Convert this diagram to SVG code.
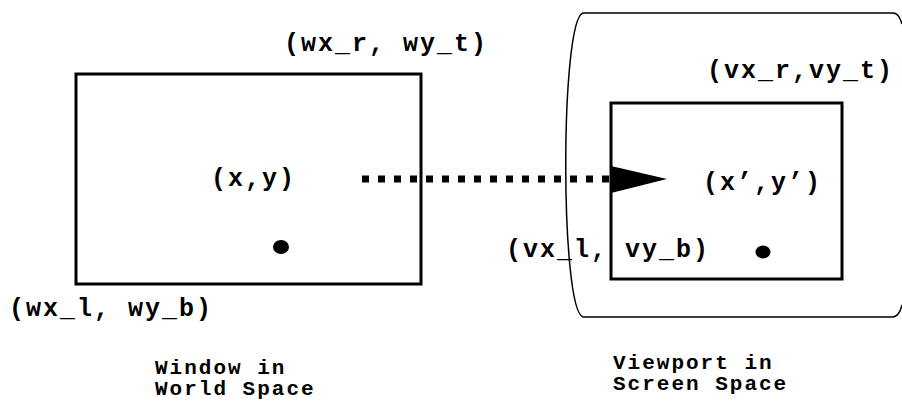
<svg xmlns="http://www.w3.org/2000/svg" width="902" height="410" viewBox="0 0 902 410">
<style>
.box{fill:none;stroke:#000;stroke-width:3}
.thin{fill:none;stroke:#000;stroke-width:1.5}
.lbl{font-family:"Liberation Mono","Courier New",monospace;font-weight:bold;font-size:25px;letter-spacing:2px;fill:#000}
.cap{font-family:"Liberation Mono","Courier New",monospace;font-weight:bold;font-size:21px;letter-spacing:2px;fill:#000}
.dots{fill:none;stroke:#000;stroke-width:7;stroke-dasharray:7 9}
</style>
<rect width="902" height="410" fill="#fff"/>
<g id="screen">
<path class="thin" d="M583,13 H893 C897,13 900,17 902,24"/>
<path class="thin" d="M583,13 C560,20 560,310 583,317 H893 C897,317 900,313 902,305"/>
</g>
<g id="window">
<rect class="box" x="76" y="74" width="345" height="210"/>
<ellipse cx="281" cy="247" rx="8" ry="7"/>
<text class="lbl" x="284" y="51">(wx_r, wy_t)</text>
<text class="lbl" x="211" y="186">(x,y)</text>
<text class="lbl" x="9" y="316">(wx_l, wy_b)</text>
<text class="cap" x="155" y="374">Window in</text>
<text class="cap" x="155" y="395">World Space</text>
</g>
<g id="viewport">
<rect class="box" x="611" y="103" width="231" height="176"/>
<ellipse cx="763" cy="252" rx="7.5" ry="6.5"/>
<text class="lbl" x="707" y="78">(vx_r,vy_t)</text>
<text class="lbl" x="703" y="190">(x’,y’)</text>
<text class="lbl" x="506" y="257">(vx_l, vy_b)</text>
<text class="cap" x="613" y="369">Viewport in</text>
<text class="cap" x="613" y="390">Screen Space</text>
</g>
<g id="connectors">
<line class="dots" x1="362" y1="179" x2="609" y2="179"/>
<polygon points="611,166 667,179 611,193" fill="#000"/>
</g>
</svg>
